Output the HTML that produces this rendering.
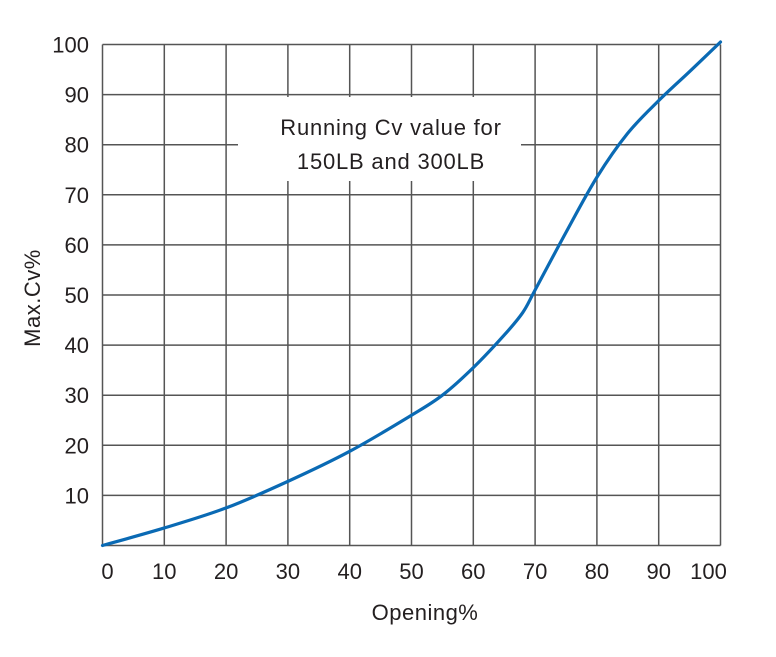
<!DOCTYPE html>
<html><head><meta charset="utf-8"><style>
body{margin:0;background:#fff;}
svg text{font-family:"Liberation Sans",sans-serif;fill:#231f20;}
</style></head><body>
<svg width="776" height="652" xmlns="http://www.w3.org/2000/svg">
<g id="grid"></g>
<rect x="238" y="97" width="283" height="84" fill="#fff"/>
<text x="391" y="135" font-size="22" letter-spacing="0.8" text-anchor="middle">Running Cv value for</text>
<text x="391" y="169" font-size="22" letter-spacing="0.8" text-anchor="middle">150LB and 300LB</text>
<g id="ticks"></g>
<path id="curve" fill="none" stroke="#0a6ab4" stroke-width="3.2" stroke-linecap="round"/>
<text x="425" y="620" font-size="22" letter-spacing="0.5" text-anchor="middle">Opening%</text>
<text transform="translate(40,298) rotate(-90)" font-size="22" letter-spacing="0.5" text-anchor="middle">Max.Cv%</text>
</svg>
<script>
const openings=[0,10,20,30,40,50,55,60,65,68,70,75,80,85,90,95,100];
const cvValues=[0,3.5,7.5,12.8,18.8,26,30,35.5,42,46.5,51,62.5,73.5,82.3,88.8,94.6,100.5];
const xTicks=[0,10,20,30,40,50,60,70,80,90,100];
const yTicks=[10,20,30,40,50,60,70,80,90,100];
const NS="http://www.w3.org/2000/svg";
const X=v=>102.5+v*6.18, Y=v=>545.5-v*5.01;
const grid=document.getElementById('grid'), ticks=document.getElementById('ticks');
function line(x1,y1,x2,y2){const l=document.createElementNS(NS,'line');
l.setAttribute('x1',x1);l.setAttribute('y1',y1);l.setAttribute('x2',x2);l.setAttribute('y2',y2);
l.setAttribute('stroke','#555');l.setAttribute('stroke-width','1.5');


grid.appendChild(l);}
xTicks.forEach(v=>{line(X(v),Y(100),X(v),Y(0));
const t=document.createElementNS(NS,'text');t.setAttribute('x',X(v)+(v===0?5:(v===100?-12:0)));t.setAttribute('y',579);
t.setAttribute('font-size','22');t.setAttribute('text-anchor','middle');t.textContent=v;


ticks.appendChild(t);});
line(X(0),Y(0),X(100),Y(0));
yTicks.forEach(v=>{line(X(0),Y(v),X(100),Y(v));
const t=document.createElementNS(NS,'text');t.setAttribute('x',89);t.setAttribute('y',Y(v)+8);
t.setAttribute('font-size','22');t.setAttribute('text-anchor','end');t.textContent=v;


ticks.appendChild(t);});
const pts=openings.map((o,i)=>[X(o),Y(cvValues[i])]);
let d='M'+pts[0][0]+','+pts[0][1];
for(let i=0;i<pts.length-1;i++){const p0=pts[Math.max(0,i-1)],p1=pts[i],p2=pts[i+1],p3=pts[Math.min(pts.length-1,i+2)];
const c1=[p1[0]+(p2[0]-p0[0])/6,p1[1]+(p2[1]-p0[1])/6],c2=[p2[0]-(p3[0]-p1[0])/6,p2[1]-(p3[1]-p1[1])/6];
d+=' C'+c1+' '+c2+' '+p2;}
document.getElementById('curve').setAttribute('d',d);
</script>
</body></html>
